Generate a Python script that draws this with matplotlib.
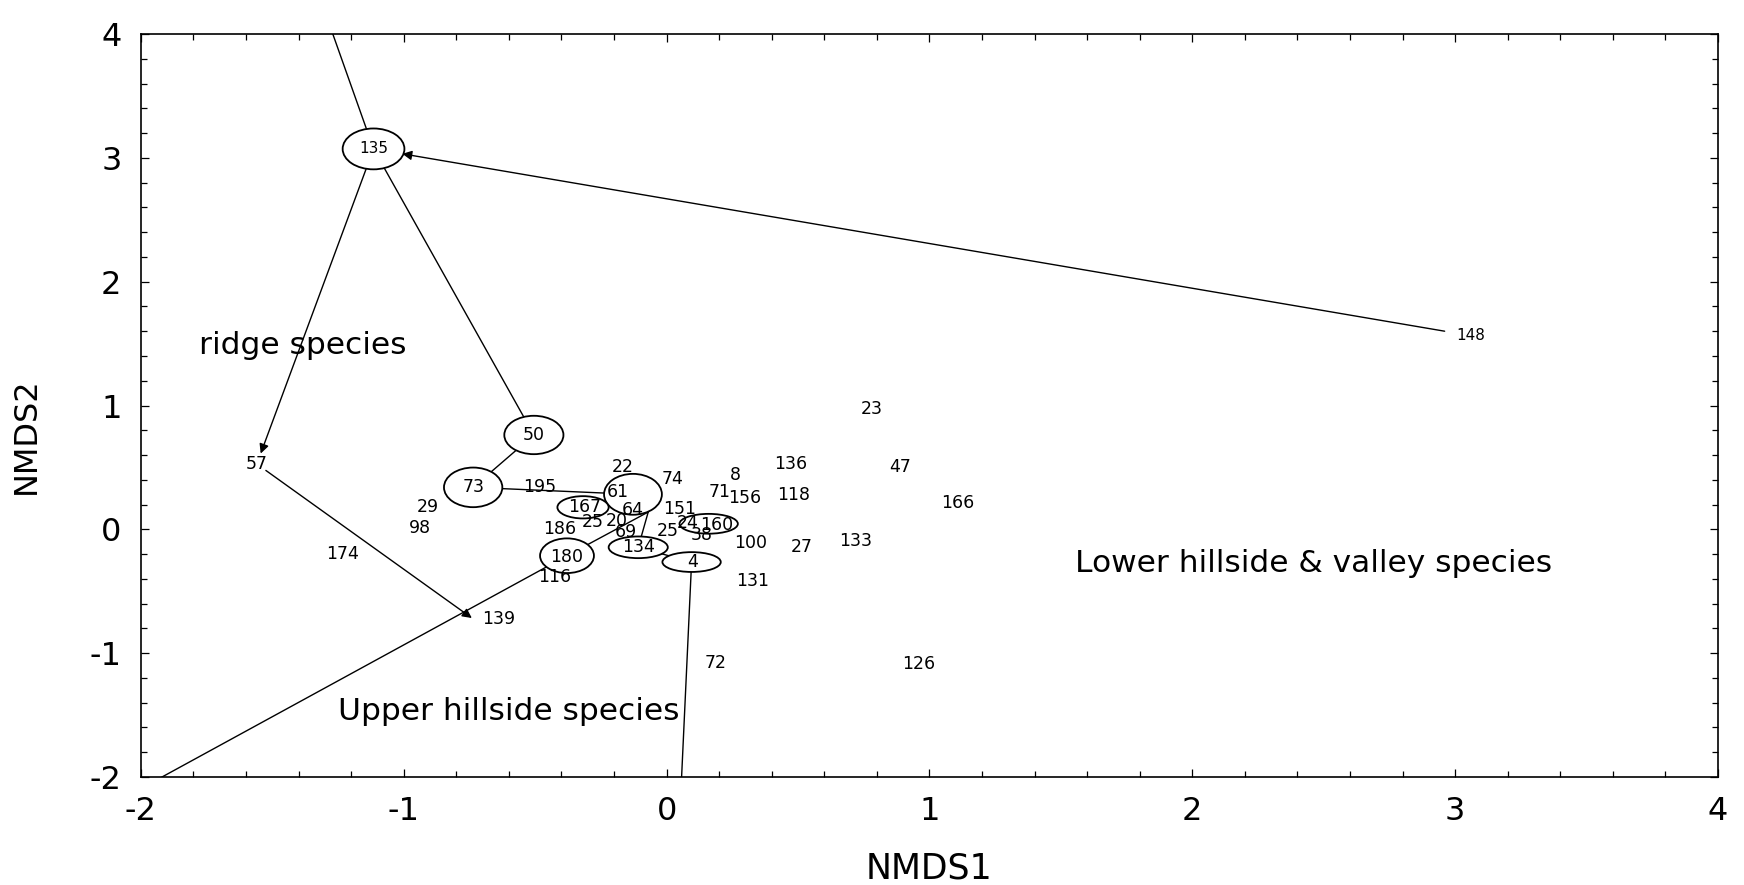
import matplotlib
matplotlib.use("Agg")
import matplotlib.pyplot as plt
from matplotlib.patches import Ellipse
from matplotlib.ticker import MultipleLocator

plt.rcParams['font.family'] = ['DejaVu Sans']
plt.rcParams['axes.unicode_minus'] = False

# species / plot labels
labels = ["135", "148", "57", "139", "50", "73", "61", "167", "180", "134",
          "4", "24", "160", "38", "151", "25", "69", "20", "25", "186",
          "64", "116", "74", "71", "22", "195", "29", "98", "174", "23",
          "136", "8", "156", "118", "47", "166", "100", "27", "133", "131",
          "72", "126"]
lab_x = [-1.115, 3.058, -1.559, -0.637, -0.505, -0.736, -0.185, -0.311, -0.379, -0.108,
         0.100, 0.081, 0.191, 0.135, 0.051, 0.005, -0.155, -0.189, -0.280, -0.406,
         -0.128, -0.425, 0.024, 0.203, -0.166, -0.482, -0.908, -0.939, -1.231, 0.781,
         0.473, 0.260, 0.298, 0.485, 0.888, 1.109, 0.320, 0.514, 0.720, 0.328,
         0.188, 0.959]
lab_y = [3.072, 1.562, 0.528, -0.720, 0.762, 0.339, 0.301, 0.179, -0.224, -0.145,
         -0.264, 0.051, 0.035, -0.046, 0.164, -0.014, -0.022, 0.067, 0.059, 0.002,
         0.156, -0.385, 0.406, 0.301, 0.503, 0.342, 0.180, 0.010, -0.200, 0.972,
         0.527, 0.439, 0.253, 0.277, 0.503, 0.212, -0.111, -0.143, -0.095, -0.418,
         -1.080, -1.088]
small_labels = ["135", "148"]

# circled groups
ell_x = [-1.115, -0.505, -0.736, -0.128, -0.318, -0.379, -0.108, 0.095, 0.160]
ell_y = [3.072, 0.762, 0.339, 0.283, 0.178, -0.213, -0.145, -0.264, 0.045]
ell_w = [0.235, 0.225, 0.222, 0.220, 0.195, 0.205, 0.225, 0.222, 0.222]
ell_h = [0.330, 0.310, 0.320, 0.330, 0.180, 0.280, 0.175, 0.160, 0.160]

# nodes of the linking tree (incl. where lines leave the frame)
node_names = ["135", "148", "57", "139", "50", "73", "61", "180", "134", "4",
              "top", "corner", "junction", "bottom"]
node_x = [-1.115, 2.96, -1.559, -0.741, -0.505, -0.736, -0.128, -0.379, -0.108, 0.095,
          -1.27, -1.92, -0.07, 0.057]
node_y = [3.072, 1.60, 0.528, -0.716, 0.762, 0.339, 0.283, -0.213, -0.145, -0.264,
          4.0, -2.0, 0.14, -2.0]
nodes = dict(zip(node_names, zip(node_x, node_y)))

lines = [("top", "135"), ("135", "50"), ("50", "73"), ("73", "61"),
         ("corner", "180"), ("180", "junction"), ("junction", "134"),
         ("134", "4"), ("4", "bottom")]
# (from, to, shrink at start, shrink at end) in points
arrows = [("148", "135", 0, 21), ("135", "57", 14, 8), ("57", "139", 8, 0)]

groups = ["ridge species", "Upper hillside species", "Lower hillside & valley species"]
group_x = [-1.386, -0.599, 2.461]
group_y = [1.481, -1.474, -0.279]

fig = plt.figure(figsize=(17.44, 8.85), dpi=100)
ax = fig.add_axes([0.0808, 0.122, 0.9043, 0.8396])
ax.set_xlim(-2, 4)
ax.set_ylim(-2, 4)

for a, b in lines:
    ax.plot([nodes[a][0], nodes[b][0]], [nodes[a][1], nodes[b][1]],
            color='black', lw=1.0, zorder=1)

for a, b, sa, sb in arrows:
    ax.annotate('', xy=nodes[b], xytext=nodes[a],
                arrowprops=dict(arrowstyle='-|>', color='black', lw=1.0,
                                shrinkA=sa, shrinkB=sb, mutation_scale=14),
                zorder=1)

for x, y, w, h in zip(ell_x, ell_y, ell_w, ell_h):
    ax.add_patch(Ellipse((x, y), w, h, facecolor='white', edgecolor='black',
                         lw=1.3, zorder=2))

for t, x, y in zip(labels, lab_x, lab_y):
    fs = 11 if t in small_labels else 12.5
    ax.text(x, y, t, fontsize=fs, ha='center', va='center', zorder=3)

for t, x, y in zip(groups, group_x, group_y):
    ax.text(x, y, t, fontsize=22.5, ha='center', va='center', zorder=3)

ax.xaxis.set_major_locator(MultipleLocator(1))
ax.yaxis.set_major_locator(MultipleLocator(1))
ax.xaxis.set_minor_locator(MultipleLocator(0.2))
ax.yaxis.set_minor_locator(MultipleLocator(0.2))
ax.tick_params(which='both', direction='in', top=True, right=True, width=0.9)
ax.tick_params(which='major', length=6, labelsize=23, pad=14)
ax.tick_params(which='minor', length=4)
for s in ax.spines.values():
    s.set_linewidth(1.2)

ax.set_xlabel("NMDS1", fontsize=25)
ax.set_ylabel("NMDS2", fontsize=23)
ax.xaxis.set_label_coords(0.5, -0.10)
ax.yaxis.set_label_coords(-0.063, 0.459)

fig.savefig("out.png", dpi=100)
